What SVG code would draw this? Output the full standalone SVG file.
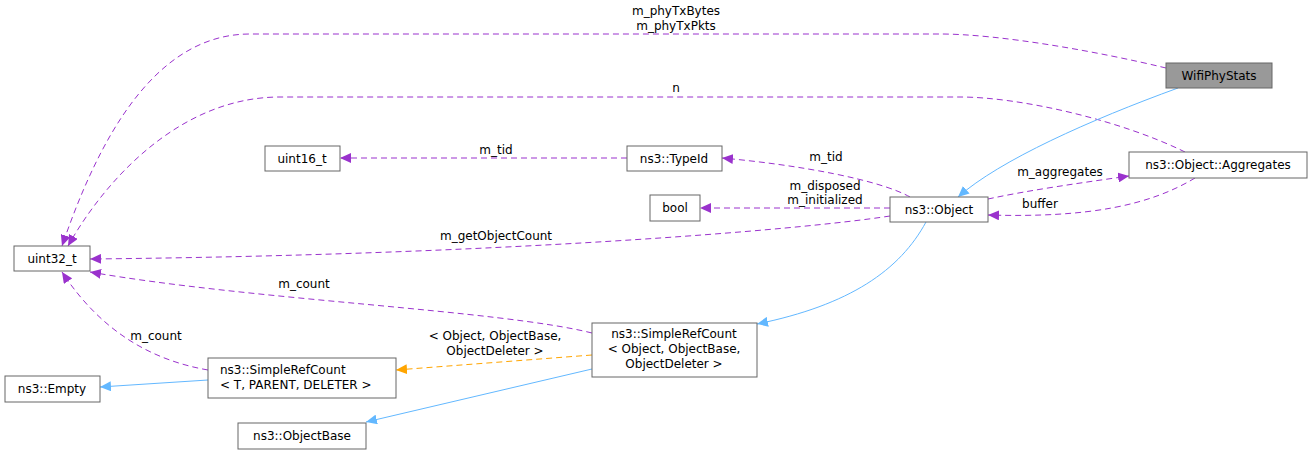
<svg xmlns="http://www.w3.org/2000/svg" width="1313" height="454" viewBox="0 0 1313 454">
<style>
.n rect{fill:#fff;stroke:#666;stroke-width:1}
text{font-family:"DejaVu Sans",sans-serif;font-size:12px;fill:#000}
.c{text-anchor:middle}
.p{fill:none;stroke:#9a32cd;stroke-dasharray:6,4}
.o{fill:none;stroke:#ffa500;stroke-dasharray:6,4}
.b{fill:none;stroke:#63b8ff}
</style>
<defs>
<marker id="mp" markerWidth="12" markerHeight="10" refX="11" refY="5" orient="auto" markerUnits="userSpaceOnUse"><path d="M0,0 L11,5 L0,10 Z" fill="#9a32cd"/></marker>
<marker id="mo" markerWidth="12" markerHeight="10" refX="11" refY="5" orient="auto" markerUnits="userSpaceOnUse"><path d="M0,0 L11,5 L0,10 Z" fill="#ffa500"/></marker>
<marker id="mb" markerWidth="12" markerHeight="10" refX="11" refY="5" orient="auto" markerUnits="userSpaceOnUse"><path d="M0,0 L11,5 L0,10 Z" fill="#63b8ff"/></marker>
</defs>
<g id="edges">
<path class="p" d="M1166,68 C1100,52 1000,34 940,34 L250,34 C150,34 95,150 62,246" marker-end="url(#mp)"/>
<text class="c" x="676" y="15">m_phyTxBytes</text><text class="c" x="676" y="30">m_phyTxPkts</text>
<path class="p" d="M1185,152 C1120,120 1020,97 960,97 L280,97 C180,97 105,180 68,246" marker-end="url(#mp)"/>
<text class="c" x="676" y="92">n</text>
<path class="p" d="M627,158 L340,158" marker-end="url(#mp)"/>
<text class="c" x="496" y="154">m_tid</text>
<path class="p" d="M910,197 C880,180 800,165 722,158" marker-end="url(#mp)"/>
<text class="c" x="826" y="161">m_tid</text>
<path class="p" d="M890,208 L700,208" marker-end="url(#mp)"/>
<text class="c" x="825" y="190">m_disposed</text><text class="c" x="825" y="204">m_initialized</text>
<path class="p" d="M890,216 C800,230 500,255 90,259" marker-end="url(#mp)"/>
<text class="c" x="496" y="240">m_getObjectCount</text>
<path class="p" d="M988,199 C1030,190 1080,183 1129,176" marker-end="url(#mp)"/>
<text class="c" x="1060" y="176">m_aggregates</text>
<path class="p" d="M1195,178 C1150,205 1090,218 988,215" marker-end="url(#mp)"/>
<text class="c" x="1040" y="208">buffer</text>
<path class="b" d="M1178,88 C1090,120 1000,160 958,197" marker-end="url(#mb)"/>
<path class="b" d="M926,222 C900,270 850,305 757,324" marker-end="url(#mb)"/>
<path class="p" d="M592,333 C500,310 250,300 90,272" marker-end="url(#mp)"/>
<text class="c" x="304" y="288">m_count</text>
<path class="p" d="M208,370 C150,360 100,330 62,272" marker-end="url(#mp)"/>
<text class="c" x="156" y="340">m_count</text>
<path class="o" d="M592,355 L396,370" marker-end="url(#mo)"/>
<text class="c" x="495" y="340">&lt; Object, ObjectBase,</text><text class="c" x="495" y="355">ObjectDeleter &gt;</text>
<path class="b" d="M208,380 L100,387" marker-end="url(#mb)"/>
<path class="b" d="M592,369 L366,422" marker-end="url(#mb)"/>
</g>
<g id="WifiPhyStats" class="n"><rect x="1166" y="63" width="106" height="25" style="fill:#999"/><text class="c" x="1219" y="80">WifiPhyStats</text></g>
<g id="Aggregates" class="n"><rect x="1129" y="152" width="178" height="26"/><text class="c" x="1218" y="169">ns3::Object::Aggregates</text></g>
<g id="Object" class="n"><rect x="890" y="197" width="98" height="25"/><text class="c" x="939" y="214">ns3::Object</text></g>
<g id="TypeId" class="n"><rect x="627" y="146" width="95" height="25"/><text class="c" x="674" y="163">ns3::TypeId</text></g>
<g id="bool" class="n"><rect x="650" y="195" width="50" height="26"/><text class="c" x="675" y="212">bool</text></g>
<g id="uint16" class="n"><rect x="265" y="146" width="75" height="25"/><text class="c" x="302" y="163">uint16_t</text></g>
<g id="uint32" class="n"><rect x="14" y="246" width="76" height="25"/><text class="c" x="52" y="263">uint32_t</text></g>
<g id="SRCObject" class="n"><rect x="592" y="323" width="165" height="54"/><text class="c" x="674" y="338">ns3::SimpleRefCount</text><text class="c" x="674" y="353">&lt; Object, ObjectBase,</text><text class="c" x="674" y="368">ObjectDeleter &gt;</text></g>
<g id="SRCT" class="n"><rect x="208" y="358" width="188" height="40"/><text x="220" y="374">ns3::SimpleRefCount</text><text x="220" y="389">&lt; T, PARENT, DELETER &gt;</text></g>
<g id="Empty" class="n"><rect x="5" y="376" width="95" height="26"/><text class="c" x="52" y="393">ns3::Empty</text></g>
<g id="ObjectBase" class="n"><rect x="238" y="423" width="128" height="26"/><text class="c" x="302" y="440">ns3::ObjectBase</text></g>
</svg>
